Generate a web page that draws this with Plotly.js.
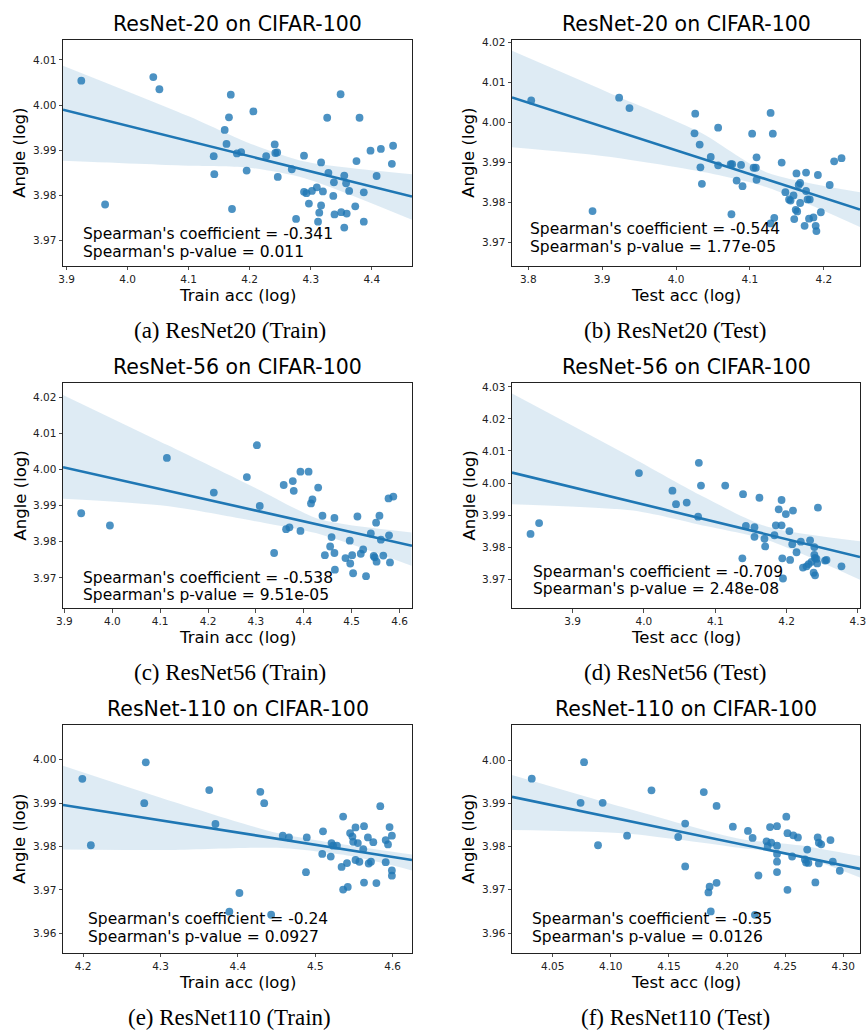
<!DOCTYPE html>
<html><head><meta charset="utf-8">
<script src="https://cdn.plot.ly/plotly-3.0.1.min.js"></script>
<style>html,body{margin:0;padding:0;background:#fff}#chart{width:866px;height:1030px}</style>
</head><body><div id="chart"></div>
<script>
// ---------------- data ----------------
const r20TrainX = [3.924,3.963,4.042,4.052,4.169,4.166,4.206,4.159,4.162,4.141,4.142,4.171,4.179,4.186,4.195,4.227,4.241,4.242,4.245,4.246,4.269,4.276,4.289,4.289,4.293,4.297,4.302,4.310,4.312,4.314,4.317,4.317,4.320,4.327,4.329,4.338,4.337,4.339,4.349,4.350,4.355,4.358,4.359,4.355,4.363,4.373,4.375,4.380,4.387,4.387,4.398,4.408,4.415,4.433,4.435];
const r20TrainY = [4.0054,3.9780,4.0062,4.0035,4.0023,3.9973,3.9986,3.9945,3.9914,3.9887,3.9847,3.9770,3.9893,3.9896,3.9855,3.9887,3.9913,3.9894,3.9895,3.9841,3.9858,3.9748,3.9888,3.9808,3.9805,3.9782,3.9810,3.9818,3.9742,3.9762,3.9873,3.9778,3.9809,3.9972,3.9850,3.9829,3.9799,3.9758,4.0024,3.9763,3.9844,3.9827,3.9760,3.9729,3.9810,3.9776,3.9876,3.9972,3.9807,3.9742,3.9899,3.9843,3.9903,3.9870,3.9910];
const r20TrainBandX  = [3.894, 4.100, 4.195, 4.290, 4.466];
const r20TrainBandHi = [4.0087, 3.9975, 3.9918, 3.9875, 3.9847];
const r20TrainBandLo = [3.9877, 3.9866, 3.9862, 3.9838, 3.9746];

const r20TestX = [3.804,3.887,3.923,3.937,4.026,4.025,4.032,4.033,4.035,4.047,4.057,4.057,4.074,4.076,4.075,4.082,4.088,4.090,4.103,4.105,4.108,4.109,4.109,4.128,4.131,4.128,4.133,4.143,4.148,4.153,4.155,4.159,4.160,4.162,4.164,4.163,4.166,4.168,4.168,4.174,4.176,4.176,4.178,4.181,4.180,4.186,4.189,4.190,4.192,4.196,4.208,4.214,4.224];
const r20TestY = [4.0055,3.9779,4.0062,4.0036,4.0022,3.9973,3.9945,3.9888,3.9847,3.9914,3.9893,3.9987,3.9896,3.9896,3.9771,3.9855,3.9894,3.9841,3.9972,3.9887,3.9887,3.9913,3.9857,4.0024,3.9972,3.9748,3.9762,3.9900,3.9826,3.9808,3.9805,3.9818,3.9759,3.9782,3.9778,3.9873,3.9844,3.9849,3.9799,3.9742,3.9875,3.9829,3.9808,3.9808,3.9760,3.9763,3.9742,3.9729,3.9869,3.9776,3.9844,3.9903,3.9911];
const r20TestBandX  = [3.778, 3.906, 4.032, 4.122, 4.249];
const r20TestBandHi = [4.0179, 4.0077, 3.9976, 3.9876, 3.9826];
const r20TestBandLo = [3.9938, 3.9915, 3.9878, 3.9839, 3.9739];

const r56TrainX = [3.935,3.995,4.114,4.212,4.281,4.302,4.308,4.338,4.358,4.363,4.370,4.377,4.379,4.393,4.393,4.410,4.415,4.418,4.430,4.439,4.455,4.458,4.444,4.464,4.464,4.465,4.487,4.496,4.497,4.501,4.503,4.512,4.519,4.524,4.530,4.540,4.546,4.548,4.551,4.552,4.558,4.561,4.566,4.577,4.578,4.580,4.587];
const r56TrainY = [3.9879,3.9845,4.0032,3.9936,3.9979,4.0067,3.9899,3.9769,3.9957,3.9835,3.9840,3.9968,3.9941,3.9830,3.9994,3.9994,3.9906,3.9917,3.9950,3.9872,3.9787,3.9813,3.9763,3.9866,3.9769,3.9723,3.9755,3.9803,3.9740,3.9763,3.9713,3.9870,3.9767,3.9779,3.9705,3.9823,3.9761,3.9757,3.9853,3.9745,3.9872,3.9806,3.9762,3.9920,3.9818,3.9743,3.9925];
const r56TrainBandX  = [3.897, 4.114, 4.302, 4.434, 4.625];
const r56TrainBandHi = [4.0206, 4.0068, 3.9947, 3.9862, 3.9826];
const r56TrainBandLo = [3.9919, 3.9899, 3.9856, 3.9821, 3.9734];

const r56TestX = [3.841,3.853,3.993,4.040,4.045,4.060,4.077,4.076,4.080,4.114,4.138,4.139,4.143,4.155,4.155,4.162,4.169,4.170,4.183,4.185,4.189,4.193,4.193,4.194,4.195,4.199,4.204,4.205,4.208,4.209,4.214,4.220,4.223,4.228,4.231,4.233,4.235,4.239,4.239,4.240,4.238,4.240,4.242,4.243,4.244,4.254,4.256,4.277];
const r56TestY = [3.9841,3.9875,4.0031,3.9976,3.9934,3.9939,4.0063,3.9895,3.9992,3.9992,3.9765,3.9965,3.9866,3.9862,3.9832,3.9954,3.9826,3.9802,3.9837,3.9868,3.9918,3.9947,3.9868,3.9765,3.9702,3.9903,3.9850,3.9760,3.9809,3.9914,3.9784,3.9817,3.9736,3.9740,3.9747,3.9821,3.9754,3.9800,3.9776,3.9766,3.9720,3.9712,3.9763,3.9749,3.9923,3.9758,3.9760,3.9740];
const r56TestBandX  = [3.815, 3.985, 4.078, 4.172, 4.303];
const r56TestBandHi = [4.0279, 4.0077, 3.9963, 3.9864, 3.9818];
const r56TestBandLo = [3.9934, 3.9914, 3.9870, 3.9823, 3.9698];

const r110TrainX = [4.199,4.210,4.279,4.281,4.363,4.371,4.389,4.402,4.429,4.434,4.443,4.458,4.466,4.488,4.489,4.510,4.509,4.520,4.521,4.523,4.528,4.534,4.536,4.536,4.541,4.542,4.545,4.548,4.549,4.552,4.552,4.555,4.557,4.563,4.562,4.563,4.568,4.569,4.572,4.575,4.579,4.584,4.591,4.591,4.594,4.596,4.599,4.599,4.599];
const r110TrainY = [3.9956,3.9803,3.9900,3.9994,3.9930,3.9852,3.9650,3.9693,3.9926,3.9900,3.9643,3.9825,3.9821,3.9741,3.9821,3.9835,3.9783,3.9777,3.9808,3.9802,3.9802,3.9753,3.9869,3.9701,3.9762,3.9707,3.9831,3.9823,3.9811,3.9844,3.9769,3.9808,3.9765,3.9717,3.9794,3.9847,3.9821,3.9761,3.9765,3.9810,3.9716,3.9893,3.9764,3.9815,3.9805,3.9845,3.9825,3.9745,3.9733];
const r110TrainBandX  = [4.174, 4.308, 4.451, 4.546, 4.625];
const r110TrainBandHi = [3.9986, 3.9908, 3.9831, 3.9802, 3.9782];
const r110TrainBandLo = [3.9793, 3.9792, 3.9797, 3.9778, 3.9745];

const r110TestX = [4.032,4.074,4.077,4.089,4.093,4.114,4.135,4.158,4.164,4.164,4.180,4.184,4.185,4.186,4.191,4.191,4.205,4.218,4.222,4.224,4.227,4.234,4.235,4.237,4.238,4.243,4.243,4.243,4.243,4.243,4.251,4.252,4.252,4.256,4.257,4.261,4.267,4.268,4.269,4.270,4.276,4.278,4.279,4.279,4.281,4.289,4.291,4.297];
const r110TestY = [3.9957,3.9901,3.9995,3.9803,3.9901,3.9825,3.9930,3.9822,3.9853,3.9754,3.9926,3.9694,3.9707,3.9650,3.9716,3.9894,3.9846,3.9836,3.9820,3.9642,3.9733,3.9812,3.9801,3.9845,3.9809,3.9847,3.9741,3.9802,3.9783,3.9765,3.9869,3.9831,3.9700,3.9777,3.9826,3.9821,3.9770,3.9763,3.9793,3.9762,3.9717,3.9821,3.9761,3.9809,3.9805,3.9815,3.9765,3.9744];
const r110TestBandX  = [4.0144, 4.113, 4.2106, 4.2624, 4.3147];
const r110TestBandHi = [3.9966, 3.9889, 3.9818, 3.9803, 3.9778];
const r110TestBandLo = [3.9838, 3.9830, 3.9797, 3.9778, 3.9728];

const panelTitles = ["ResNet-20 on CIFAR-100","ResNet-20 on CIFAR-100","ResNet-56 on CIFAR-100","ResNet-56 on CIFAR-100","ResNet-110 on CIFAR-100","ResNet-110 on CIFAR-100"];
const xAxisTitles = ["Train acc (log)","Test acc (log)","Train acc (log)","Test acc (log)","Train acc (log)","Test acc (log)"];
const yAxisTitle = "Angle (log)";
const captions = ["(a) ResNet20 (Train)","(b) ResNet20 (Test)","(c) ResNet56 (Train)","(d) ResNet56 (Test)","(e) ResNet110 (Train)","(f) ResNet110 (Test)"];
const spearmanCoef = ["-0.341","-0.544","-0.538","-0.709","-0.24","-0.35"];
const spearmanP = ["0.011","1.77e-05","9.51e-05","2.48e-08","0.0927","0.0126"];

const xTickVals = [[3.9,4.0,4.1,4.2,4.3,4.4],[3.8,3.9,4.0,4.1,4.2],[3.9,4.0,4.1,4.2,4.3,4.4,4.5,4.6],[3.9,4.0,4.1,4.2,4.3],[4.2,4.3,4.4,4.5,4.6],[4.05,4.10,4.15,4.20,4.25,4.30]];
const xTickText = [["3.9","4.0","4.1","4.2","4.3","4.4"],["3.8","3.9","4.0","4.1","4.2"],["3.9","4.0","4.1","4.2","4.3","4.4","4.5","4.6"],["3.9","4.0","4.1","4.2","4.3"],["4.2","4.3","4.4","4.5","4.6"],["4.05","4.10","4.15","4.20","4.25","4.30"]];
const yTickVals = [[3.97,3.98,3.99,4.00,4.01],[3.97,3.98,3.99,4.00,4.01,4.02],[3.97,3.98,3.99,4.00,4.01,4.02],[3.97,3.98,3.99,4.00,4.01,4.02,4.03],[3.96,3.97,3.98,3.99,4.00],[3.96,3.97,3.98,3.99,4.00]];
const yTickText = [["3.97","3.98","3.99","4.00","4.01"],["3.97","3.98","3.99","4.00","4.01","4.02"],["3.97","3.98","3.99","4.00","4.01","4.02"],["3.97","3.98","3.99","4.00","4.01","4.02","4.03"],["3.96","3.97","3.98","3.99","4.00"],["3.96","3.97","3.98","3.99","4.00"]];

// ---------------- layout / style ----------------
const W = 866, H = 1030;
const colPx = [[63, 412], [512, 860]];
const rowPx = [[40, 265.5], [383, 608], [725, 952.5]];
const xRanges = [[3.894,4.466],[3.778,4.249],[3.897,4.626],[3.815,4.303],[4.174,4.625],[4.015,4.3144]];
const yRanges = [[3.9645,4.0144],[3.9643,4.0206],[3.9617,4.0239],[3.961,4.0312],[3.9556,4.008],[3.9555,4.0081]];
const textLeftPx = [81, 528, 81, 531, 86, 530];
const textLine1Px = [234.3, 229.3, 578.3, 571.7, 919.3, 919.3];
const textLine2Px = [251.7, 246.7, 595, 589, 936.7, 936.7];
const captionCenterPx = [230, 675];

const panels = [
  [r20TrainX, r20TrainY, r20TrainBandX, r20TrainBandHi, r20TrainBandLo],
  [r20TestX, r20TestY, r20TestBandX, r20TestBandHi, r20TestBandLo],
  [r56TrainX, r56TrainY, r56TrainBandX, r56TrainBandHi, r56TrainBandLo],
  [r56TestX, r56TestY, r56TestBandX, r56TestBandHi, r56TestBandLo],
  [r110TrainX, r110TrainY, r110TrainBandX, r110TrainBandHi, r110TrainBandLo],
  [r110TestX, r110TestY, r110TestBandX, r110TestBandHi, r110TestBandLo]
];

const BLUE = '#1f77b4';
const FONT = 'DejaVu Sans, Liberation Sans, sans-serif';
const px2x = p => p / W;
const px2y = p => 1 - p / H;

// ordinary least squares line across the axis range
function olsLine(xs, ys, x0, x1) {
  const n = xs.length;
  const mx = xs.reduce((a,b)=>a+b,0)/n, my = ys.reduce((a,b)=>a+b,0)/n;
  let sxx = 0, sxy = 0;
  for (let i=0;i<n;i++){ sxx += (xs[i]-mx)**2; sxy += (xs[i]-mx)*(ys[i]-my); }
  const b = sxy/sxx, a = my - b*mx;
  return {x:[x0, x1], y:[a + b*x0, a + b*x1]};
}

const traces = [];
const layout = {
  width: W, height: H,
  margin: {l:0, r:0, t:0, b:0},
  paper_bgcolor: '#fff', plot_bgcolor: '#fff',
  showlegend: false,
  font: {family: FONT, color: '#000'},
  annotations: []
};

panels.forEach((pd, i) => {
  const row = Math.floor(i/2), col = i%2;
  const k = i === 0 ? '' : String(i+1);
  const xa = 'x'+k, ya = 'y'+k;
  const [xs, ys, bx, bhi, blo] = pd;
  const xr = xRanges[i];
  const fit = olsLine(xs, ys, xr[0], xr[1]);

  traces.push({x: xs, y: ys, mode:'markers', type:'scatter', xaxis: xa, yaxis: ya,
    marker:{color:'rgba(31,119,180,0.8)', size:7.8, line:{width:0}}, hoverinfo:'skip'});
  traces.push({x: bx, y: blo, mode:'lines', type:'scatter', xaxis: xa, yaxis: ya,
    line:{width:0, color:'rgba(0,0,0,0)', shape:'spline', smoothing:0.7}, hoverinfo:'skip'});
  traces.push({x: bx, y: bhi, mode:'lines', type:'scatter', xaxis: xa, yaxis: ya, fill:'tonexty',
    fillcolor:'rgba(31,119,180,0.15)', line:{width:0, color:'rgba(0,0,0,0)', shape:'spline', smoothing:0.7}, hoverinfo:'skip'});
  traces.push({x: fit.x, y: fit.y, mode:'lines', type:'scatter', xaxis: xa, yaxis: ya,
    line:{color: BLUE, width:2.6}, hoverinfo:'skip'});

  const common = {showline:true, mirror:true, linecolor:'#222', linewidth:1,
    ticks:'outside', ticklen:3.5, tickwidth:0.8, tickcolor:'#222',
    showgrid:false, zeroline:false, fixedrange:true, ticklabeloverflow:'allow',
    tickfont:{family: FONT, size:10.5, color:'#222'}};
  layout['xaxis'+k] = Object.assign({}, common, {
    domain:[px2x(colPx[col][0]), px2x(colPx[col][1])], anchor: ya,
    range: xr, tickmode:'array', tickvals: xTickVals[i], ticktext: xTickText[i]});
  layout['yaxis'+k] = Object.assign({}, common, {
    domain:[px2y(rowPx[row][1]), px2y(rowPx[row][0])], anchor: xa,
    range: yRanges[i], tickmode:'array', tickvals: yTickVals[i], ticktext: yTickText[i]});

  const cx = (colPx[col][0]+colPx[col][1])/2;
  const fb = rowPx[row][1], ft = rowPx[row][0];
  const ann = layout.annotations;
  ann.push({text: panelTitles[i], xref:'paper', yref:'paper', x: px2x(cx), y: px2y(ft-16.5),
    xanchor:'center', yanchor:'middle', showarrow:false, font:{family:FONT, size:20.5, color:'#000'}});
  ann.push({text: xAxisTitles[i], xref:'paper', yref:'paper', x: px2x(cx), y: px2y(fb+29.5),
    xanchor:'center', yanchor:'middle', showarrow:false, font:{family:FONT, size:16.5, color:'#000'}});
  ann.push({text: yAxisTitle, xref:'paper', yref:'paper', x: px2x(col===0 ? 20 : 469), y: px2y((ft+fb)/2),
    xanchor:'center', yanchor:'middle', textangle:-90, showarrow:false, font:{family:FONT, size:16.5, color:'#000'}});
  ann.push({text: captions[i], xref:'paper', yref:'paper', x: px2x(captionCenterPx[col]), y: px2y(fb+64.5),
    xanchor:'center', yanchor:'middle', showarrow:false, font:{family:'Liberation Serif, DejaVu Serif, serif', size:23, color:'#000'}});
  ann.push({text: "Spearman's coefficient = " + spearmanCoef[i], xref:'paper', yref:'paper',
    x: px2x(textLeftPx[i]), y: px2y(textLine1Px[i]), xanchor:'left', yanchor:'middle', showarrow:false,
    font:{family:FONT, size:15.5, color:'#000'}});
  ann.push({text: "Spearman's p-value = " + spearmanP[i], xref:'paper', yref:'paper',
    x: px2x(textLeftPx[i]), y: px2y(textLine2Px[i]), xanchor:'left', yanchor:'middle', showarrow:false,
    font:{family:FONT, size:15.5, color:'#000'}});
});

Plotly.newPlot('chart', traces, layout, {staticPlot:true, displayModeBar:false});
</script>
</body></html>
